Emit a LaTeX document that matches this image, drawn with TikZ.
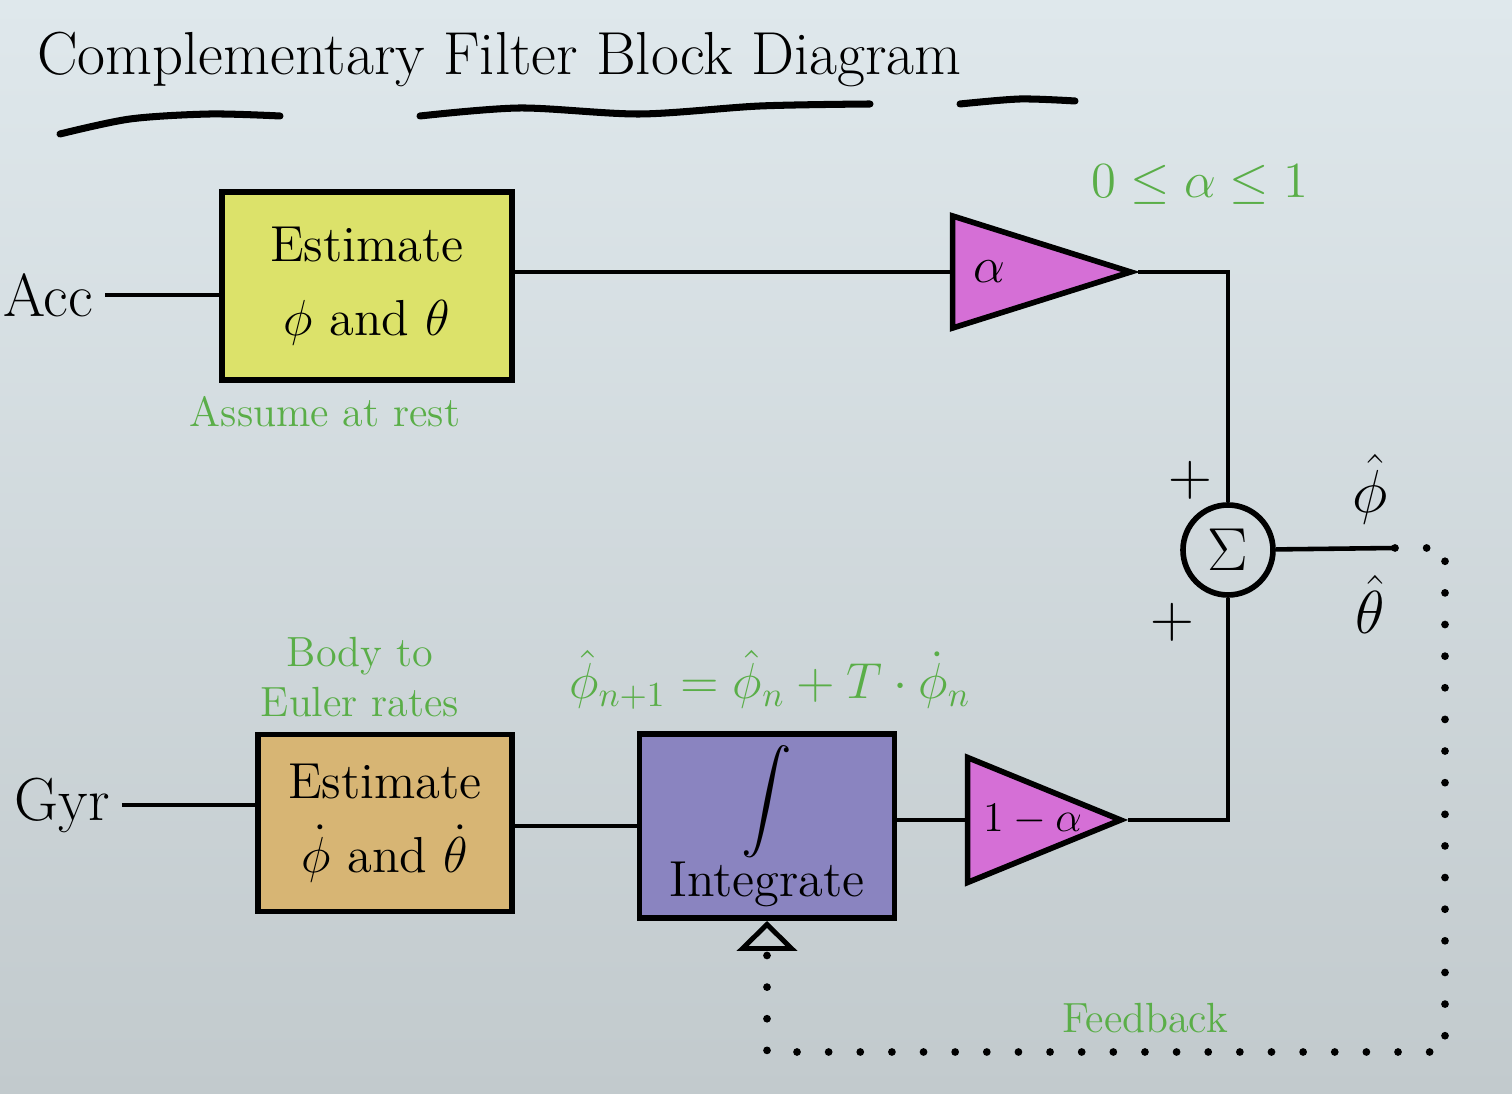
\documentclass[tikz,border=0pt]{standalone}
\usepackage{amsmath}
\usepackage{amssymb}
\usepackage{xcolor}
\usepackage{tikz}
\usetikzlibrary{shapes.geometric, arrows.meta, calc, positioning}

\definecolor{bgtop}{HTML}{DFE8EC}
\definecolor{bgbot}{HTML}{C2CACD}
\definecolor{accfill}{HTML}{DCE26A}
\definecolor{gyrfill}{HTML}{D7B574}
\definecolor{intfill}{HTML}{8A84C0}
\definecolor{gainfill}{HTML}{D56FD6}
\definecolor{notegreen}{HTML}{5AAE48}

\begin{document}
\begin{tikzpicture}[
    estbox/.style={rectangle, draw, line width=1.6pt, align=center, font=\Large},
    gain/.style={isosceles triangle, isosceles triangle stretches, shape border rotate=0, draw, line width=1.6pt, fill=gainfill, inner sep=0pt, font=\Large},
    sumnode/.style={circle, draw, line width=1.6pt, minimum size=0.9cm, inner sep=0pt, font=\LARGE},
    wire/.style={line width=1.3pt},
    feedback/.style={line width=2.2pt, line cap=round, dash pattern=on 0pt off 9pt},
    note/.style={text=notegreen, font=\large},
    sig/.style={font=\LARGE}
]

% 背景
\fill[top color=bgtop, bottom color=bgbot] (0,0) rectangle (15.12,10.94);
\useasboundingbox (0,0) rectangle (15.12,10.94);

% 标题
\node[font=\LARGE, anchor=west] (title) at (0.25,10.35) {Complementary Filter Block Diagram};
\draw[line width=2pt, line cap=round] plot[smooth] coordinates {(0.6,9.6) (1.3,9.75) (2.1,9.8) (2.8,9.78)};
\draw[line width=2pt, line cap=round] plot[smooth] coordinates {(4.2,9.78) (5.2,9.86) (6.4,9.8) (7.6,9.88) (8.7,9.9)};
\draw[line width=2pt, line cap=round] plot[smooth] coordinates {(9.6,9.9) (10.2,9.95) (10.75,9.93)};

% 输入
\node[sig] (acc_in) at (0.48,7.99) {Acc};
\node[sig] (gyr_in) at (0.62,2.89) {Gyr};

% 估计块
\node[estbox, fill=accfill, minimum width=2.9cm, minimum height=1.88cm] (acc_est) at (3.67,8.08) {Estimate\\[3pt]$\phi$ and $\theta$};
\node[estbox, fill=gyrfill, minimum width=2.54cm, minimum height=1.77cm] (gyr_est) at (3.85,2.71) {Estimate\\[3pt]$\dot\phi$ and $\dot\theta$};
\node[estbox, fill=intfill, minimum width=2.55cm, minimum height=1.83cm] (integ) at (7.67,2.68) {$\displaystyle\int$\\Integrate};

% 增益
\node[gain, minimum height=1.78cm, minimum width=1.12cm, anchor=apex] (alpha_gain) at (11.38,8.22) {$\alpha$\hspace*{0.2cm}};
\node[gain, minimum height=1.53cm, minimum width=1.07cm, anchor=apex] (oneminus_gain) at (11.28,2.74) {\hspace*{0.15cm}\large$1-\alpha$};

% 求和
\node[sumnode] (sigma) at (12.28,5.44) {$\Sigma$};
\coordinate (est_out) at (13.95,5.46);
\coordinate (fb_right) at (14.45,0.42);

% 连接线
\draw[wire] (acc_in.east) -- (acc_in.east -| acc_est.west);
\draw[wire] (acc_est.east |- alpha_gain.west) -- (alpha_gain.west);
\draw[wire] (alpha_gain.apex) -| (sigma.north);
\draw[wire] (gyr_in.east) -- (gyr_in.east -| gyr_est.west);
\draw[wire] (gyr_est.east |- integ) -- (integ);
\draw[wire] (integ.east |- oneminus_gain.west) -- (oneminus_gain.west);
\draw[wire] (oneminus_gain.apex) -| (sigma.south);
\draw[wire] (sigma) -- (est_out);

% 反馈
\draw[feedback, -{Triangle[open, length=3mm, width=6mm, line width=1.4pt, sep=0pt]}] (est_out) -| (fb_right) -| (integ.south);

% 标注
\node[sig] (plus_top) at (11.9,6.14) {$+$};
\node[sig] (plus_bot) at (11.72,4.72) {$+$};
\node[sig] (phi_hat) at (13.7,6.05) {$\hat\phi$};
\node[sig] (theta_hat) at (13.7,4.9) {$\hat\theta$};
\node[note, font=\Large] (alpha_range) at (12.0,9.09) {$0\le\alpha\le1$};
\node[note] (rest_note) at (3.25,6.82) {Assume at rest};
\node[note, align=center] (euler_note) at (3.6,4.17) {Body to\\Euler rates};
\node[note, font=\Large] (int_note) at (7.7,4.14) {$\hat\phi_{n+1}=\hat\phi_n+T\cdot\dot{\phi}_n$};
\node[note] (fb_note) at (11.45,0.76) {Feedback};

\end{tikzpicture}
\end{document}
